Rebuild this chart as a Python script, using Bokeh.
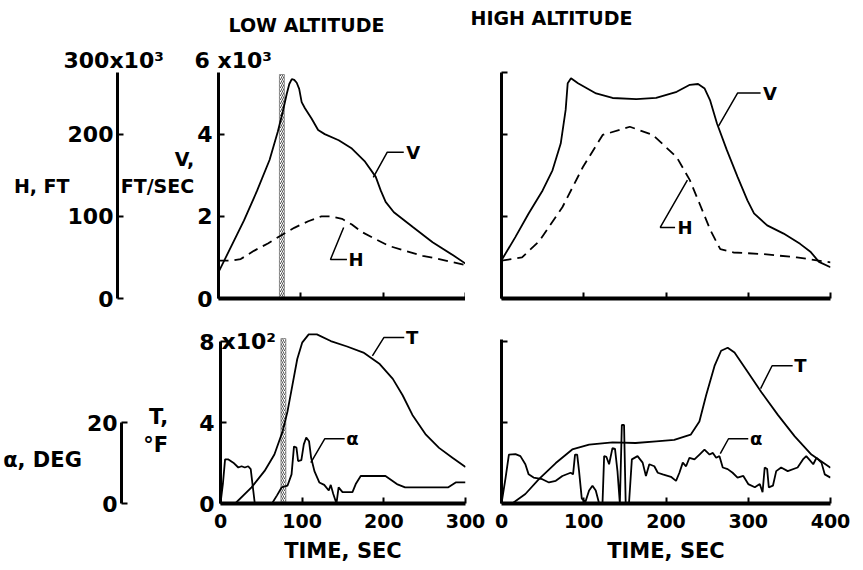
from bokeh.plotting import figure
from bokeh.models import Range1d, LinearAxis, FixedTicker, Label, Title
from bokeh.layouts import column, row
from bokeh.embed import file_html
from bokeh.resources import INLINE

FONT = "DejaVu Sans"
WEIGHT = "bold"
NB = "\u00a0"

# ---------------- data ----------------
# LOW ALTITUDE: velocity V (x10^3 ft/s)
low_v_t = [0, 15, 31, 47, 62, 72, 78, 83, 86, 89, 92, 95, 98, 101, 105, 113, 121, 129,
           146, 162, 178, 191, 197, 203, 213, 236, 260, 285, 300]
low_v = [0.64, 1.25, 1.90, 2.63, 3.37, 4.06, 4.54, 4.99, 5.22, 5.34, 5.32, 5.25, 5.10, 4.78,
         4.63, 4.38, 4.10, 4.00, 3.85, 3.65, 3.33, 2.96, 2.63, 2.35, 2.10, 1.74, 1.37, 1.05, 0.85]
# LOW ALTITUDE: altitude H (x10^3 ft)
low_h_t = [0, 15, 27, 43, 60, 78, 92, 109, 125, 137, 150, 162, 174, 191, 207, 227, 248, 268, 285, 299]
low_h = [46, 46, 48, 58, 67, 78, 86, 94, 100, 100, 97, 90, 81, 72, 64, 58, 52, 48, 44, 41]
# HIGH ALTITUDE: velocity V
high_v_t = [0, 17, 33, 50, 62, 72, 78, 80.5, 84.5, 93, 115, 135, 164, 188, 213, 229, 239, 247,
            253.5, 262, 274, 287, 299, 307, 323, 343, 363, 376, 386, 400]
high_v = [0.93, 1.50, 2.07, 2.63, 3.12, 3.77, 4.59, 5.24, 5.36, 5.24, 4.99, 4.88, 4.85, 4.88,
          5.03, 5.20, 5.22, 5.11, 4.83, 4.26, 3.61, 2.96, 2.39, 2.07, 1.78, 1.58, 1.33, 1.13, 0.89, 0.76]
# HIGH ALTITUDE: altitude H
high_h_t = [0, 25, 46, 74, 99, 123, 156, 184, 213, 229, 241, 254, 266, 282, 319, 359, 400]
high_h = [46, 50, 70, 111, 160, 199, 209, 199, 172, 144, 115, 83, 60, 56, 54, 50, 44]
# LOW ALTITUDE: temperature T (x10^2 deg F)
low_temp_t = [18, 38, 54, 66, 76, 82, 88, 94, 100, 108, 118, 135, 155, 175, 195, 211, 223,
              235, 251.5, 267.6, 284, 300]
low_temp = [0, 0.80, 1.61, 2.42, 3.56, 4.54, 5.84, 7.14, 7.95, 8.36, 8.36, 8.03, 7.76, 7.46,
            6.89, 6.16, 5.35, 4.38, 3.40, 2.75, 2.26, 1.80]
# LOW ALTITUDE: angle of attack alpha (deg)
low_alpha_t = [0, 3, 5.6, 9.7, 15.7, 21.8, 25.8, 29.8, 33.9, 37, 42, 63, 69, 75, 82, 87, 90,
               93, 95, 99, 102, 105, 108.4, 111, 115, 121, 127, 132.6, 135, 138, 142, 144.6,
               149.4, 161.6, 165.6, 171.7, 202, 216, 226, 279, 288, 300]
low_alpha = [0, 5, 10.9, 10.9, 10.1, 8.9, 9.2, 8.9, 9.2, 8.5, 0, 0, 1.95, 4.0, 4.4, 7.2, 14.1,
             13.8, 10.5, 10.7, 14.6, 16.3, 15.4, 11.3, 8.0, 5.2, 4.6, 3.2, 4.6, 2.4, 0, 4.0,
             2.8, 2.8, 4.8, 6.8, 6.8, 4.8, 4.0, 4.0, 5.2, 5.2]
# HIGH ALTITUDE: temperature T
high_temp_t = [13, 29, 45.5, 66, 86, 106.5, 135, 163, 188, 210, 230, 240.6, 248.8, 259, 267,
               275, 283.3, 299.6, 316, 336, 356.5, 376.8, 400]
high_temp = [0, 0.47, 1.20, 2.00, 2.67, 2.91, 3.02, 2.99, 3.07, 3.14, 3.40, 4.05, 5.35, 6.80,
             7.55, 7.70, 7.46, 6.49, 5.50, 4.38, 3.32, 2.42, 1.77]
# HIGH ALTITUDE: angle of attack alpha
high_alpha_t = [0, 5, 9, 17, 23, 29, 33, 39, 49.6, 57.7, 66, 74, 84, 87, 89.4, 92, 94.3, 97.6,
                102, 106.5, 110.6, 114.6, 118.7, 122.8, 124.8, 127.6, 130.8, 134.9, 138, 141,
                143.9, 146.3, 149, 151, 155, 158.5, 165.4, 171.6, 175.6, 179.7, 185.8, 190, 196,
                206, 212.2, 216.3, 220.4, 224.4, 228.5, 234.6, 240.7, 246.8, 253, 257, 261, 265,
                269, 275, 281, 287, 294, 300, 308, 314, 317.4, 320, 323, 325, 330, 334, 340,
                348, 360, 366.5, 370.5, 374, 379, 383, 389, 393, 400]
high_alpha = [0, 6.4, 12.1, 12.2, 11.7, 9.7, 7.2, 6.4, 6.0, 5.2, 5.6, 6.8, 7.6, 7.2, 12.1, 12.1,
              8.0, 1.2, 0.4, 3.2, 4.4, 3.2, 0, 0, 11.7, 11.5, 9.7, 13.7, 13.5, 8.0, 0, 19.4,
              19.4, 0, 0, 10.9, 11.7, 10.1, 6.8, 9.7, 9.2, 7.6, 7.2, 6.6, 5.6, 7.6, 10.1, 9.2,
              11.3, 10.9, 12.1, 13.3, 12.1, 12.5, 11.3, 11.7, 8.9, 8.5, 7.6, 6.4, 6.8, 4.8, 4.0,
              4.8, 2.8, 8.9, 8.5, 4.0, 4.4, 8.0, 8.9, 8.0, 8.9, 10.9, 11.7, 10.9, 9.7, 11.3,
              10.1, 7.2, 6.4]
# shaded time window on the low-altitude traces (s) and its heights
burn_window = [74, 80]
band_top_v = 5.45
band_top_temp = 8.15

low_time_ticks = [0, 100, 200, 300]
high_time_ticks = [0, 100, 200, 300, 400]
v_ticks = [0, 2, 4]
v_ticks_right = [0, 2, 4, 5.5]
h_ticks = [0, 100, 200]
temp_ticks = [0, 4, 8]
alpha_ticks = [0, 20]

# curve tags: leader polyline (x list, y list) and text anchor
tl_v_leader = ([188, 205, 225], [2.95, 3.56, 3.56]); tl_v_tag = (228, 3.56)
tl_h_leader = ([152, 136, 156], [1.73, 0.95, 0.95]); tl_h_tag = (158, 0.95)
tr_v_leader = ([264, 287, 315], [4.2, 5.0, 5.0]); tr_v_tag = (318, 5.0)
tr_h_leader = ([226, 193, 211], [2.88, 1.73, 1.73]); tr_h_tag = (214, 1.73)
bl_t_leader = ([186, 200, 225], [7.3, 8.2, 8.2]); bl_t_tag = (227, 8.2)
bl_a_leader = ([110.6, 127.6, 152], [10.1, 16.0, 16.0]); bl_a_tag = (154, 16.0)
br_t_leader = ([315, 329, 354], [5.68, 6.81, 6.81]); br_t_tag = (356, 6.81)
br_a_leader = ([266, 276, 300], [12.3, 16.0, 16.0]); br_a_tag = (302, 16.0)


def make_fig(w, h, xmax, ymax, bl, br, bt, bb):
    p = figure(width=w, height=h, x_range=Range1d(0, xmax), y_range=Range1d(0, ymax),
               min_border_left=bl, min_border_right=br, min_border_top=bt, min_border_bottom=bb,
               toolbar_location=None, output_backend="svg")
    p.outline_line_color = None
    p.xgrid.visible = False
    p.ygrid.visible = False
    p.background_fill_color = "white"
    p.border_fill_color = "white"
    return p


def style_axis(ax, label_size="22px"):
    ax.axis_line_width = 3
    ax.axis_line_color = "black"
    ax.major_tick_line_width = 2
    ax.major_tick_line_color = "black"
    ax.major_tick_in = 6
    ax.major_tick_out = 0
    ax.minor_tick_line_color = None
    ax.major_label_text_font = FONT
    ax.major_label_text_font_style = WEIGHT
    ax.major_label_text_font_size = label_size
    ax.major_label_text_color = "black"
    ax.axis_label_text_font = FONT
    ax.axis_label_text_font_style = WEIGHT
    ax.axis_label_text_color = "black"


def hide_labels(ax):
    ax.major_label_text_color = None


def tag(p, leader, pos, text, yname="default"):
    p.line(leader[0], leader[1], line_color="black", line_width=1.5, y_range_name=yname)
    p.add_layout(Label(x=pos[0], y=pos[1], text=text, text_font=FONT, text_font_size="18px",
                       text_font_style=WEIGHT, text_color="black", text_align="left",
                       text_baseline="middle", y_range_name=yname))


def band(p, top):
    p.quad(left=[burn_window[0]], right=[burn_window[1]], bottom=[0], top=[top],
           fill_color="white", fill_alpha=0.0, hatch_pattern="/", hatch_color="#555555",
           hatch_scale=4, hatch_weight=1, line_color="#777777", line_width=0.8)


def add_title(p, text, offset, standoff, size):
    p.add_layout(Title(text=text, align="left", offset=offset, standoff=standoff,
                       text_font=FONT, text_font_size=size, text_font_style=WEIGHT,
                       text_color="black"), "above")


# ---------------- top-left: LOW ALTITUDE, V and H ----------------
tl = make_fig(465, 315, 300, 5.5, 218, 0, 72, 17)
tl.title = None
tl.extra_y_ranges = {"H": Range1d(0, 275)}
add_title(tl, "300x10³" + NB * 4 + "6 x10³", -155, 0, "22px")
add_title(tl, "LOW ALTITUDE", 10, 19, "19px")
band(tl, band_top_v)
tl.line(low_v_t, low_v, line_color="black", line_width=1.8)
tl.line(low_h_t, low_h, line_color="black", line_width=1.8, line_dash="10 6", y_range_name="H")
tag(tl, tl_v_leader, tl_v_tag, "V")
tag(tl, tl_h_leader, tl_h_tag, "H")

vax = tl.yaxis[0]
style_axis(vax)
vax.ticker = FixedTicker(ticks=v_ticks)
vax.major_label_standoff = 6
vax.axis_label = "V,\nFT/SEC\n" + NB
vax.axis_label_orientation = "horizontal"
vax.axis_label_text_font_size = "19px"
vax.axis_label_standoff = 0

hax = LinearAxis(y_range_name="H", ticker=FixedTicker(ticks=h_ticks))
style_axis(hax)
hax.major_label_standoff = 4
hax.axis_label = "H, FT"
hax.axis_label_orientation = "horizontal"
hax.axis_label_text_font_size = "19px"
hax.axis_label_standoff = -5
tl.add_layout(hax, "left")

xa = tl.xaxis[0]
style_axis(xa)
xa.axis_line_width = 4
xa.ticker = FixedTicker(ticks=low_time_ticks)
hide_labels(xa)

# ---------------- top-right: HIGH ALTITUDE, V and H ----------------
tr = make_fig(398, 315, 400, 5.5, 36, 33, 72, 17)
tr.title = None
tr.extra_y_ranges = {"H": Range1d(0, 275)}
add_title(tr, "HIGH ALTITUDE\n" + NB + "\n" + NB, -31, 0, "19px")
tr.line(high_v_t, high_v, line_color="black", line_width=1.8)
tr.line(high_h_t, high_h, line_color="black", line_width=1.8, line_dash="10 6", y_range_name="H")
tag(tr, tr_v_leader, tr_v_tag, "V")
tag(tr, tr_h_leader, tr_h_tag, "H")
ya = tr.yaxis[0]
style_axis(ya)
ya.ticker = FixedTicker(ticks=v_ticks_right)
hide_labels(ya)
xa = tr.xaxis[0]
style_axis(xa)
xa.axis_line_width = 4
xa.ticker = FixedTicker(ticks=high_time_ticks)
hide_labels(xa)

# ---------------- bottom-left: LOW ALTITUDE, T and alpha ----------------
bl = make_fig(485, 255, 300, 8.6, 218, 20, 14, 67)
bl.extra_y_ranges = {"alpha": Range1d(0, 43)}
band(bl, band_top_temp)
bl.line(low_temp_t, low_temp, line_color="black", line_width=1.8)
bl.line(low_alpha_t, low_alpha, line_color="black", line_width=1.8, y_range_name="alpha")
tag(bl, bl_t_leader, bl_t_tag, "T")
tag(bl, bl_a_leader, bl_a_tag, "α", "alpha")

tax = bl.yaxis[0]
style_axis(tax)
tax.ticker = FixedTicker(ticks=temp_ticks)
tax.bounds = (0, 8)
tax.major_label_standoff = 6
tax.axis_label = NB * 6 + "\nT,\n°F"
tax.axis_label_orientation = "horizontal"
tax.axis_label_text_font_size = "21px"
tax.axis_label_standoff = 28

aax = LinearAxis(y_range_name="alpha", ticker=FixedTicker(ticks=alpha_ticks), bounds=(0, 20))
style_axis(aax)
aax.major_label_standoff = 4
aax.axis_label = (NB + "\n") * 3 + "α, DEG"
aax.axis_label_orientation = "horizontal"
aax.axis_label_text_font_size = "21px"
aax.axis_label_standoff = 2
bl.add_layout(aax, "left")

bl.add_layout(Label(x=0, y=8, text="x10²", x_offset=1, text_font=FONT, text_font_style=WEIGHT,
                    text_color="black", text_font_size="22px", text_align="left",
                    text_baseline="middle"))

xa = bl.xaxis[0]
style_axis(xa, "19px")
xa.axis_line_width = 4
xa.ticker = FixedTicker(ticks=low_time_ticks)
xa.major_label_standoff = 10
xa.axis_label = "TIME, SEC"
xa.axis_label_text_font_size = "21px"
xa.axis_label_standoff = 8

# ---------------- bottom-right: HIGH ALTITUDE, T and alpha ----------------
br = make_fig(378, 255, 400, 8.6, 16, 33, 14, 67)
br.extra_y_ranges = {"alpha": Range1d(0, 43)}
br.line(high_temp_t, high_temp, line_color="black", line_width=1.8)
br.line(high_alpha_t, high_alpha, line_color="black", line_width=1.8, y_range_name="alpha")
tag(br, br_t_leader, br_t_tag, "T")
tag(br, br_a_leader, br_a_tag, "α", "alpha")
ya = br.yaxis[0]
style_axis(ya)
ya.ticker = FixedTicker(ticks=[4, 8])
ya.bounds = (0, 8.1)
hide_labels(ya)
xa = br.xaxis[0]
style_axis(xa, "19px")
xa.axis_line_width = 4
xa.ticker = FixedTicker(ticks=high_time_ticks)
xa.major_label_standoff = 10
xa.axis_label = "TIME, SEC"
xa.axis_label_text_font_size = "21px"
xa.axis_label_standoff = 8

layout = column(row(tl, tr, spacing=0), row(bl, br, spacing=0), spacing=0)
open("out.html", "w").write(file_html(layout, INLINE))
